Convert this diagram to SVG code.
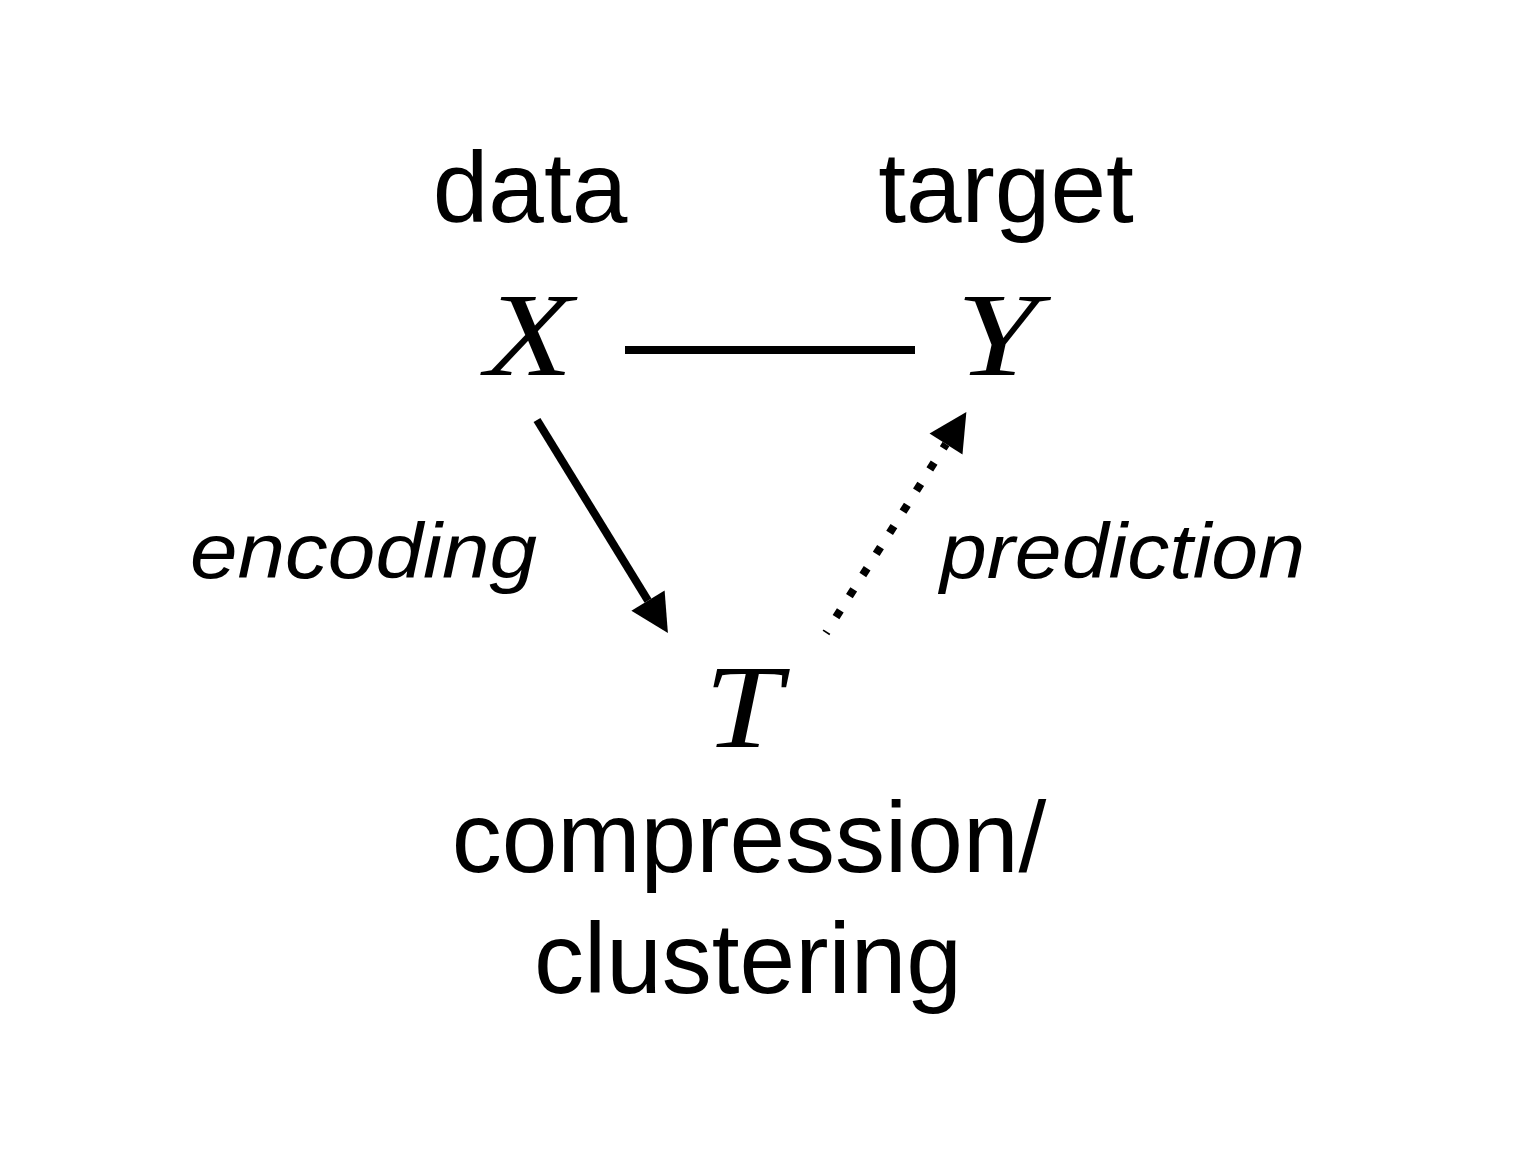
<svg xmlns="http://www.w3.org/2000/svg" width="1529" height="1175" viewBox="0 0 1529 1175">
  <defs>
    <style>
      .lbl { font-family: "Liberation Sans", Arial, sans-serif; font-size: 100px; fill: #000; }
      .edge-lbl { font-family: "Liberation Sans", Arial, sans-serif; font-size: 78px; font-style: italic; fill: #000; }
      .var { font-family: "Liberation Serif", "Times New Roman", serif; font-size: 118px; font-style: italic; fill: #000; }
      .conn { fill: none; stroke: #000; stroke-width: 8; }
    </style>
    <marker id="head" markerUnits="userSpaceOnUse" markerWidth="40" markerHeight="40" refX="0" refY="19.5" orient="auto" overflow="visible">
      <path d="M0,0 L38,19.5 L0,39 z" fill="#000"/>
    </marker>
  </defs>
  <rect width="1529" height="1175" fill="#fff"/>

  <g id="node-X">
    <text class="lbl" x="530" y="222" text-anchor="middle">data</text>
    <text class="var" x="0" y="0" text-anchor="middle" transform="translate(529,375) scale(1.22,1)">X</text>
  </g>
  <g id="node-Y">
    <text class="lbl" x="1006" y="222" text-anchor="middle">target</text>
    <text class="var" x="0" y="0" text-anchor="middle" transform="translate(997,375) scale(1.25,1)">Y</text>
  </g>
  <g id="node-T">
    <text class="var" x="0" y="0" text-anchor="middle" transform="translate(743,747) scale(1.18,1)">T</text>
    <text class="lbl" x="749" y="872" text-anchor="middle">compression/</text>
    <text class="lbl" x="748" y="993" text-anchor="middle">clustering</text>
  </g>

  <g id="connectors">
    <line class="conn" x1="625" y1="350" x2="915" y2="350" stroke-width="7"/>
    <line class="conn" x1="537" y1="420" x2="648" y2="600.6" marker-end="url(#head)"/>
    <line class="conn" x1="826" y1="633" x2="946" y2="444" stroke-dasharray="8 17" stroke-dashoffset="6.3" marker-end="url(#head)"/>
    <text class="edge-lbl" x="190" y="578" textLength="347" lengthAdjust="spacingAndGlyphs">encoding</text>
    <text class="edge-lbl" x="940" y="578" textLength="365" lengthAdjust="spacingAndGlyphs">prediction</text>
  </g>
</svg>
